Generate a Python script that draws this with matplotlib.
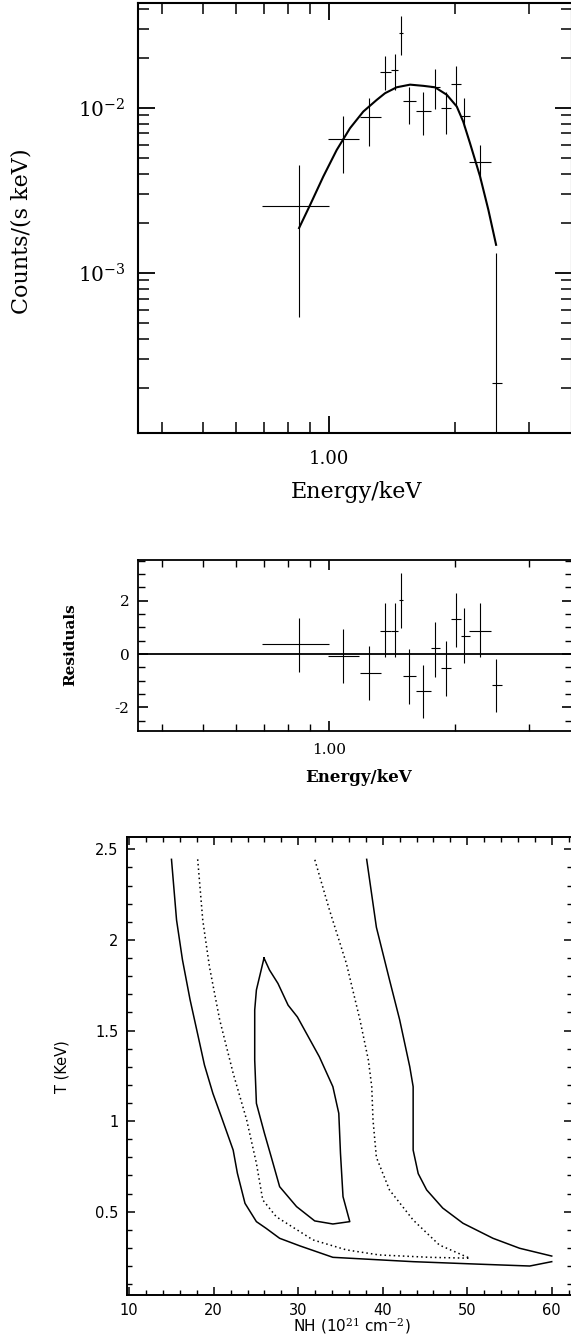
import matplotlib
matplotlib.use("Agg")
import matplotlib.pyplot as plt
import matplotlib.ticker as mticker
import numpy as np

plt.rcParams['font.family'] = ['DejaVu Serif']
plt.rcParams['mathtext.fontset'] = 'dejavuserif'

# ---------------- spectrum data ----------------
energy = [0.848, 1.082, 1.244, 1.360, 1.437, 1.483, 1.555, 1.679, 1.794, 1.899, 2.006, 2.10, 2.293, 2.504]
e_lo = [0.690, 0.996, 1.186, 1.323, 1.406, 1.466, 1.504, 1.613, 1.751, 1.85, 1.951, 2.066, 2.162, 2.443]
e_hi = [1.0, 1.181, 1.328, 1.403, 1.459, 1.499, 1.613, 1.751, 1.84, 1.951, 2.066, 2.17, 2.432, 2.583]
counts = [2.56e-3, 6.45e-3, 8.86e-3, 1.64e-2, 1.70e-2, 2.84e-2, 1.107e-2, 9.59e-3, 1.345e-2, 9.96e-3, 1.40e-2, 8.95e-3, 4.73e-3, 2.16e-4]
c_hi = [4.52e-3, 8.95e-3, 1.146e-2, 2.05e-2, 2.11e-2, 3.61e-2, 1.346e-2, 1.24e-2, 1.71e-2, 1.256e-2, 1.80e-2, 1.154e-2, 5.97e-3, 1.315e-3]
c_lo = [5.43e-4, 4.05e-3, 5.91e-3, 1.285e-2, 1.285e-2, 2.09e-2, 8.0e-3, 6.86e-3, 9.82e-3, 6.95e-3, 1.028e-2, 7.70e-3, 3.66e-3, 1e-6]

model_e = [0.848, 0.901, 0.969, 1.043, 1.122, 1.207, 1.299, 1.360, 1.450, 1.561, 1.679, 1.79, 1.91, 2.017, 2.09, 2.17, 2.293, 2.40, 2.504]
model_c = [1.87e-3, 2.58e-3, 3.84e-3, 5.56e-3, 7.53e-3, 9.5e-3, 1.117e-2, 1.227e-2, 1.333e-2, 1.383e-2, 1.36e-2, 1.333e-2, 1.2e-2, 1.02e-2, 8.26e-3, 6.1e-3, 3.84e-3, 2.41e-3, 1.48e-3]

# ---------------- residuals ----------------
resid = [0.36, -0.07, -0.70, 0.87, 0.87, 2.02, -0.81, -1.37, 0.24, -0.54, 1.30, 0.69, 0.87, -1.16]
resid_hi = [1.34, 0.94, 0.31, 1.92, 1.90, 3.05, 0.19, -0.41, 1.19, 0.49, 2.27, 1.71, 1.90, -0.19]
resid_lo = [-0.66, -1.07, -1.72, -0.12, -0.12, 0.96, -1.87, -2.41, -0.85, -1.57, 0.27, -0.33, -0.12, -2.18]

# ---------------- confidence contours ----------------
outer_left_nh = [15.0, 15.6, 16.3, 17.2, 18.1, 18.9, 19.9, 20.9, 22.3, 22.8, 23.7, 25.05, 26.2, 27.8, 30.2, 34.1, 43.6, 51.5, 57.4, 60.0]
outer_left_t = [2.445, 2.11, 1.89, 1.67, 1.48, 1.31, 1.153, 1.024, 0.84, 0.712, 0.546, 0.445, 0.408, 0.353, 0.311, 0.248, 0.224, 0.21, 0.20, 0.224]
outer_right_nh = [38.1, 39.25, 40.8, 42.0, 43.2, 43.6, 43.6, 44.2, 45.2, 47.1, 49.5, 53.05, 56.2, 60.0]
outer_right_t = [2.445, 2.07, 1.78, 1.56, 1.30, 1.19, 0.84, 0.71, 0.62, 0.52, 0.436, 0.353, 0.298, 0.255]
dotted_nh = [18.1, 18.7, 19.5, 20.7, 22.3, 23.9, 25.05, 25.8, 27.4, 31.75, 35.7, 39.6, 45.6, 50.3,
             46.7, 43.6, 40.8, 39.25, 38.85, 38.7, 38.3, 37.3, 35.7, 33.7, 31.95]
dotted_t = [2.445, 2.11, 1.85, 1.56, 1.264, 1.006, 0.767, 0.565, 0.472, 0.344, 0.289, 0.261, 0.248, 0.243,
            0.316, 0.454, 0.62, 0.80, 1.006, 1.19, 1.337, 1.56, 1.87, 2.165, 2.445]
inner_nh = [25.95, 26.6, 27.6, 28.8, 29.9, 32.5, 34.1, 34.8, 35.0, 35.3, 36.1, 34.1, 31.95, 29.8, 27.8, 26.8, 26.0, 25.05, 24.85, 24.85, 25.05, 25.95]
inner_t = [1.90, 1.834, 1.76, 1.64, 1.575, 1.355, 1.19, 1.043, 0.822, 0.583, 0.445, 0.432, 0.449, 0.528, 0.638, 0.803, 0.933, 1.098, 1.337, 1.613, 1.724, 1.90]

W, H = 571, 1342
fig = plt.figure(figsize=(W / 100, H / 100), dpi=100)


def fpos(x0, y0, x1, y1):
    return [x0 / W, 1 - y1 / H, (x1 - x0) / W, (y1 - y0) / H]


def ftext(x, y, s, **kw):
    fig.text(x / W, 1 - y / H, s, ha='center', va='center', **kw)


energy = np.array(energy); e_lo = np.array(e_lo); e_hi = np.array(e_hi)
counts = np.array(counts); c_lo = np.array(c_lo); c_hi = np.array(c_hi)
resid = np.array(resid); resid_lo = np.array(resid_lo); resid_hi = np.array(resid_hi)

# ---------------- top panel ----------------
ax1 = fig.add_axes(fpos(138, 3, 572, 433))
ax1.set_xscale('log'); ax1.set_yscale('log')
ax1.errorbar(energy, counts, xerr=[energy - e_lo, e_hi - energy], fmt='none',
             ecolor='black', elinewidth=0.8, capsize=0, linestyle=(0, (1.5, 0.7)))
ax1.errorbar(energy, counts, yerr=[counts - c_lo, c_hi - counts], fmt='none',
             ecolor='black', elinewidth=0.8, capsize=0)
ax1.plot(model_e, model_c, color='black', lw=1.5)
ax1.set_xlim(0.350, 3.80)
ax1.set_ylim(1.072e-4, 0.0432)
ax1.xaxis.set_major_locator(mticker.FixedLocator([1.0]))
ax1.xaxis.set_major_formatter(mticker.FormatStrFormatter('%.2f'))
ax1.xaxis.set_minor_locator(mticker.LogLocator(base=10, subs=np.arange(2, 10)))
ax1.xaxis.set_minor_formatter(mticker.NullFormatter())
ax1.yaxis.set_major_locator(mticker.LogLocator(base=10))
ax1.yaxis.set_minor_locator(mticker.LogLocator(base=10, subs=np.arange(2, 10)))
ax1.yaxis.set_minor_formatter(mticker.NullFormatter())
ax1.tick_params(which='both', direction='in', top=True, right=True)
ax1.tick_params(which='major', length=12, width=1.3, labelsize=14.5)
ax1.tick_params(which='minor', length=8, width=1.1)
ax1.tick_params(axis='y', which='major', pad=9)
ax1.tick_params(axis='x', which='major', pad=12, labelsize=13)
for sp in ax1.spines.values():
    sp.set_linewidth(1.5)
ftext(22, 231, 'Counts/(s keV)', rotation=90, fontsize=16)
ftext(357, 492, 'Energy/keV', fontsize=16)

# ---------------- middle panel ----------------
ax2 = fig.add_axes(fpos(138, 560, 572, 731))
ax2.set_xscale('log')
ax2.axhline(0, color='black', lw=1.3)
ax2.errorbar(energy, resid, xerr=[energy - e_lo, e_hi - energy], fmt='none',
             ecolor='black', elinewidth=0.8, capsize=0, linestyle=(0, (1.5, 0.7)))
ax2.errorbar(energy, resid, yerr=[resid - resid_lo, resid_hi - resid], fmt='none',
             ecolor='black', elinewidth=0.8, capsize=0)
ax2.set_xlim(0.350, 3.80)
ax2.set_ylim(-2.88, 3.52)
ax2.xaxis.set_major_locator(mticker.FixedLocator([1.0]))
ax2.xaxis.set_major_formatter(mticker.FormatStrFormatter('%.2f'))
ax2.xaxis.set_minor_locator(mticker.LogLocator(base=10, subs=np.arange(2, 10)))
ax2.xaxis.set_minor_formatter(mticker.NullFormatter())
ax2.yaxis.set_major_locator(mticker.MultipleLocator(2))
ax2.yaxis.set_minor_locator(mticker.MultipleLocator(0.5))
ax2.yaxis.set_major_formatter(mticker.FuncFormatter(lambda v, p: '%d' % round(v)))
ax2.tick_params(which='both', direction='in', top=True, right=True)
ax2.tick_params(which='major', length=7, width=1.2, labelsize=11)
ax2.tick_params(which='minor', length=5, width=1.0)
ax2.tick_params(axis='y', which='major', pad=6)
ax2.tick_params(axis='x', which='major', pad=9)
for sp in ax2.spines.values():
    sp.set_linewidth(1.3)
ftext(70, 645, 'Residuals', rotation=90, fontsize=11, fontweight='bold')
ftext(358, 778, 'Energy/keV', fontsize=12, fontweight='bold')

# ---------------- bottom panel ----------------
ax3 = fig.add_axes(fpos(126.7, 836.7, 572, 1295))
ax3.plot(outer_left_nh, outer_left_t, color='black', lw=1.1)
ax3.plot(outer_right_nh, outer_right_t, color='black', lw=1.1)
ax3.plot(dotted_nh, dotted_t, color='black', lw=1.1, linestyle=(0, (1, 2)))
ax3.plot(inner_nh, inner_t, color='black', lw=1.1)
ax3.set_xlim(9.7, 62.4)
ax3.set_ylim(0.04, 2.57)
ax3.xaxis.set_major_locator(mticker.MultipleLocator(10))
ax3.xaxis.set_minor_locator(mticker.MultipleLocator(2))
ax3.yaxis.set_major_locator(mticker.MultipleLocator(0.5))
ax3.yaxis.set_minor_locator(mticker.MultipleLocator(0.1))
ax3.yaxis.set_major_formatter(mticker.FuncFormatter(lambda v, p: '%g' % round(v, 2)))
ax3.tick_params(which='both', direction='in', top=True, right=True,
                labelsize=10.5, labelfontfamily='DejaVu Sans')
ax3.tick_params(which='major', length=6, width=1.1)
ax3.tick_params(which='minor', length=3.5, width=1.0)
ax3.tick_params(axis='y', which='major', pad=6)
ax3.tick_params(axis='x', which='major', pad=6)
for sp in ax3.spines.values():
    sp.set_linewidth(1.4)
ftext(62, 1067, 'T (KeV)', rotation=90, fontsize=10.5, family='DejaVu Sans')
ftext(352, 1326, r'NH (10$^{21}$ cm$^{-2}$)', fontsize=11, family='DejaVu Sans')

fig.savefig('out.png', dpi=100)
